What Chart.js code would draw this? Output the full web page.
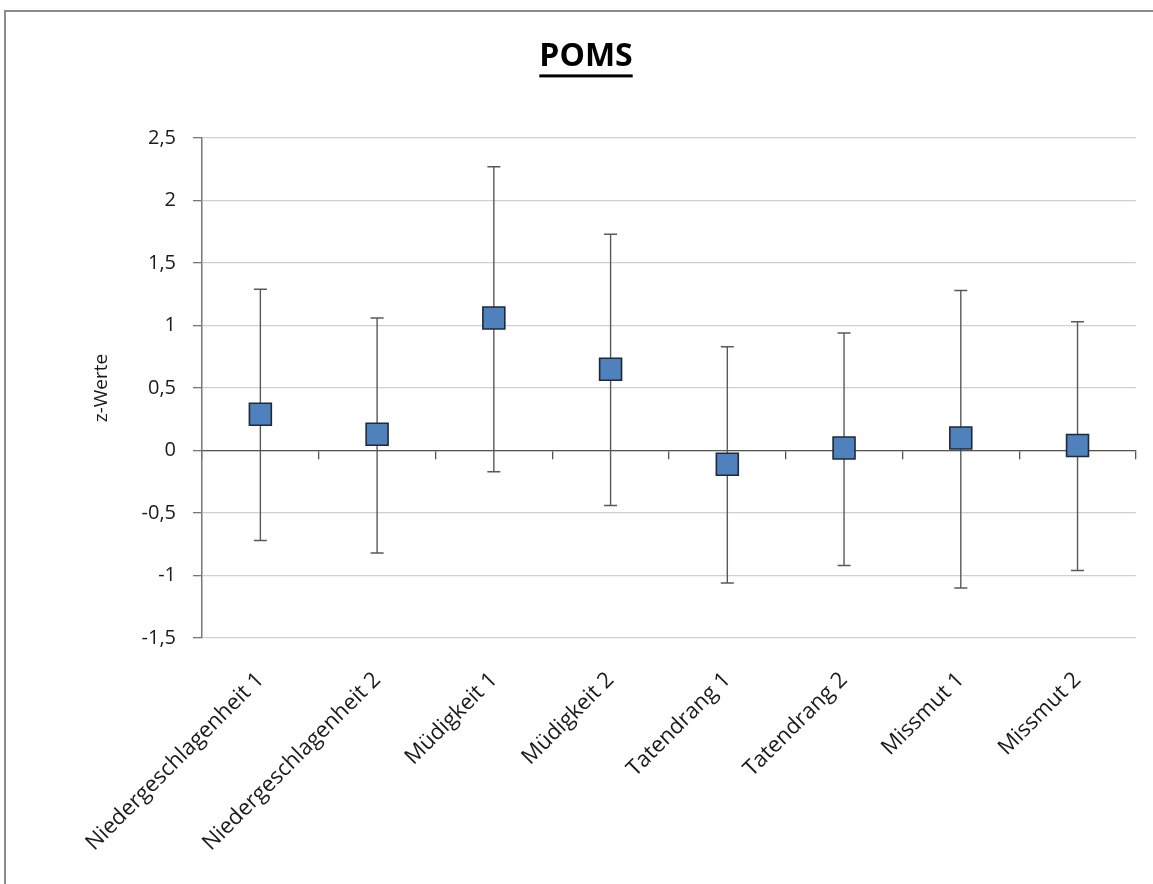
<!DOCTYPE html>
<html>
<head>
<meta charset="utf-8">
<script src="https://cdn.jsdelivr.net/npm/chart.js@4"></script>
<style>
  html, body { margin: 0; padding: 0; background: #fff; overflow: hidden; }
  #frame { position: absolute; left: 4px; top: 10px; width: 1200px; height: 1000px; border: 2px solid #8c8c8c; }
  #myChart { position: absolute; left: 0; top: 0; }
</style>
</head>
<body>
<div id="frame"></div>
<canvas id="myChart" width="1153" height="884"></canvas>
<script>
const categories = ['Niedergeschlagenheit 1', 'Niedergeschlagenheit 2', 'Müdigkeit 1', 'Müdigkeit 2',
  'Tatendrang 1', 'Tatendrang 2', 'Missmut 1', 'Missmut 2'];
const means = [0.29, 0.13, 1.06, 0.65, -0.11, 0.02, 0.10, 0.04];
const upper = [1.29, 1.06, 2.27, 1.73, 0.83, 0.94, 1.28, 1.03];
const lower = [-0.72, -0.82, -0.17, -0.44, -1.06, -0.92, -1.10, -0.96];

const FONT = "'Open Sans', 'Noto Sans', sans-serif";

// error bars, drawn below the squares
const errorBars = {
  id: 'errorBars',
  beforeDatasetsDraw(chart) {
    const c = chart.ctx;
    const x = chart.scales.x;
    const y = chart.scales.y;
    c.save();
    c.strokeStyle = '#595959';
    c.lineWidth = 1.4;
    means.forEach((m, i) => {
      const px = x.getPixelForValue(i);
      const top = y.getPixelForValue(upper[i]);
      const bot = y.getPixelForValue(lower[i]);
      c.beginPath();
      c.moveTo(px, top); c.lineTo(px, bot);
      c.moveTo(px - 6.5, top); c.lineTo(px + 6.5, top);
      c.moveTo(px - 6.5, bot); c.lineTo(px + 6.5, bot);
      c.stroke();
    });
    c.restore();
  }
};

// underline under the title
const titleUnderline = {
  id: 'titleUnderline',
  afterDraw(chart) {
    const tb = chart.titleBlock;
    if (!tb) return;
    const opts = chart.options.plugins.title;
    const c = chart.ctx;
    c.save();
    c.font = 'bold ' + opts.font.size + 'px ' + FONT;
    const w = c.measureText(opts.text).width;
    const mid = (tb.left + tb.right) / 2;
    const yLine = tb.top + opts.padding.top + opts.font.size * 1.2 - 2;
    c.fillStyle = '#000';
    c.fillRect(mid - w / 2, yLine, w, 3);
    c.restore();
  }
};

const ctx = document.getElementById('myChart');
let myChart = new Chart(ctx, {
  type: 'line',
  data: {
    labels: categories,
    datasets: [
      {
        label: 'POMS',
        data: means,
        showLine: false,
        pointStyle: 'rect',
        pointRadius: 15.5,
        pointHoverRadius: 15.5,
        backgroundColor: '#4F81BD',
        borderColor: '#1f2a36',
        borderWidth: 1.6
      }
    ]
  },
  options: {
    responsive: false,
    animation: false,
    layout: { padding: { left: 32, right: 13, top: 0, bottom: 0 } },
    plugins: {
      legend: { display: false },
      tooltip: { enabled: false },
      title: {
        display: true,
        text: 'POMS',
        color: '#000',
        font: { family: FONT, size: 32, weight: 'bold' },
        padding: { top: 38, bottom: 61.6 }
      }
    },
    scales: {
      x: {
        type: 'category',
        offset: true,
        grid: { display: false },
        border: { display: false },
        afterFit: s => { s.height = 246; },
        ticks: {
          autoSkip: false,
          maxRotation: 45,
          minRotation: 45,
          padding: 30,
          color: '#1a1a1a',
          font: { family: FONT, size: 22, lineHeight: 0.05 }
        }
      },
      x2: {
        type: 'category',
        position: { y: 0 },
        offset: true,
        ticks: { display: false },
        grid: { drawOnChartArea: false, offset: true, tickLength: 8, color: '#555', lineWidth: 1.3 },
        border: { display: true, color: '#555', width: 1.3 }
      },
      y: {
        min: -1.5,
        max: 2.5,
        afterFit: s => { s.width = 170; },
        grid: { color: '#d0d0d0', lineWidth: 1.3, tickLength: 9, tickColor: '#777' },
        border: { display: true, color: '#777', width: 1.5 },
        ticks: {
          stepSize: 0.5,
          padding: 17,
          color: '#1a1a1a',
          font: { family: FONT, size: 20 },
          callback: v => String(v).replace('.', ',')
        },
        title: {
          display: true,
          text: 'z-Werte',
          color: '#1a1a1a',
          font: { family: FONT, size: 19 },
          padding: { top: 58, bottom: 0 }
        }
      }
    }
  },
  plugins: [errorBars, titleUnderline]
});
</script>
</body>
</html>
